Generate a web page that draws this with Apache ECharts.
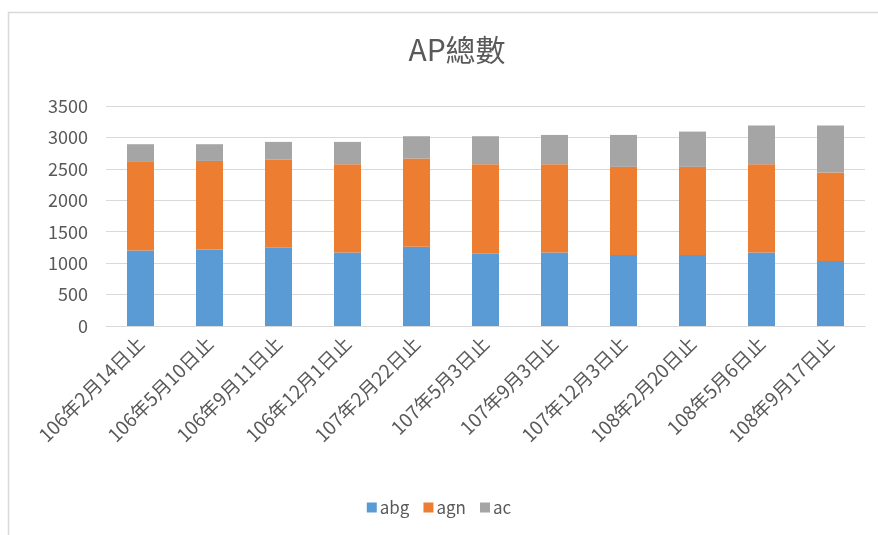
<!DOCTYPE html>
<html>
<head>
    <meta charset="utf-8">
    <title>AP總數</title>
    <script src="https://cdn.jsdelivr.net/npm/echarts@6/dist/echarts.min.js"></script>
    <style>
        html, body { margin: 0; padding: 0; background: #fff; }
    </style>
</head>
<body>
<div id="main" style="width: 878px;height:535px;"></div>
<script type="text/javascript">
    // 各期日期
    var categories = ['106年2月14日止', '106年5月10日止', '106年9月11日止', '106年12月1日止',
        '107年2月22日止', '107年5月3日止', '107年9月3日止', '107年12月3日止',
        '108年2月20日止', '108年5月6日止', '108年9月17日止'];
    var abg = [1203, 1218, 1245, 1170, 1260, 1149, 1170, 1128, 1128, 1170, 1033];
    var agn = [1407, 1408, 1403, 1404, 1404, 1425, 1404, 1404, 1404, 1404, 1409];
    var ac = [282, 266, 281, 355, 355, 445, 466, 508, 561, 615, 747];
    var yTicks = [0, 500, 1000, 1500, 2000, 2500, 3000, 3500];

    var font = '"Noto Sans CJK TC", "Noto Sans", sans-serif';
    var textColor = '#595959';

    function bar(name, data, color) {
        return {
            name: name,
            type: 'bar',
            stack: 'total',
            barWidth: 27,
            itemStyle: { color: color },
            data: data
        };
    }

    var myChart = echarts.init(document.getElementById('main'));
    var option = {
        animation: false,
        backgroundColor: '#fff',
        graphic: [{
            type: 'rect',
            shape: { x: 8.5, y: 12.5, width: 900, height: 540 },
            style: { fill: 'none', stroke: '#d9d9d9', lineWidth: 1.5 },
            silent: true
        }],
        title: {
            text: 'AP總數',
            left: 452,
            top: 30,
            textAlign: 'center',
            textStyle: { fontFamily: font, fontSize: 30, fontWeight: 'normal', color: textColor }
        },
        legend: {
            data: ['abg', 'agn', 'ac'],
            left: 'center',
            top: 494,
            itemWidth: 10,
            itemHeight: 10,
            itemGap: 14,
            icon: 'rect',
            textStyle: { fontFamily: font, fontSize: 17, color: textColor, padding: [0, 0, 0, -2] }
        },
        grid: { left: 106, right: 13, top: 106, bottom: 209, containLabel: false },
        xAxis: {
            type: 'category',
            data: categories,
            axisLine: { lineStyle: { color: '#d9d9d9' } },
            axisTick: { show: false },
            axisLabel: {
                rotate: 45,
                interval: 0,
                margin: 14,
                fontFamily: font,
                fontSize: 19,
                color: textColor
            }
        },
        yAxis: {
            type: 'value',
            min: yTicks[0],
            max: yTicks[yTicks.length - 1],
            interval: 500,
            axisLine: { show: false },
            axisTick: { show: false },
            splitLine: { lineStyle: { color: '#d9d9d9' } },
            axisLabel: {
                margin: 18,
                fontFamily: font,
                fontSize: 18,
                color: textColor,
                formatter: function (v) { return String(v); }
            }
        },
        series: [
            bar('abg', abg, '#5b9bd5'),
            bar('agn', agn, '#ed7d31'),
            bar('ac', ac, '#a5a5a5')
        ]
    };
    myChart.setOption(option);
</script>
</body>
</html>
